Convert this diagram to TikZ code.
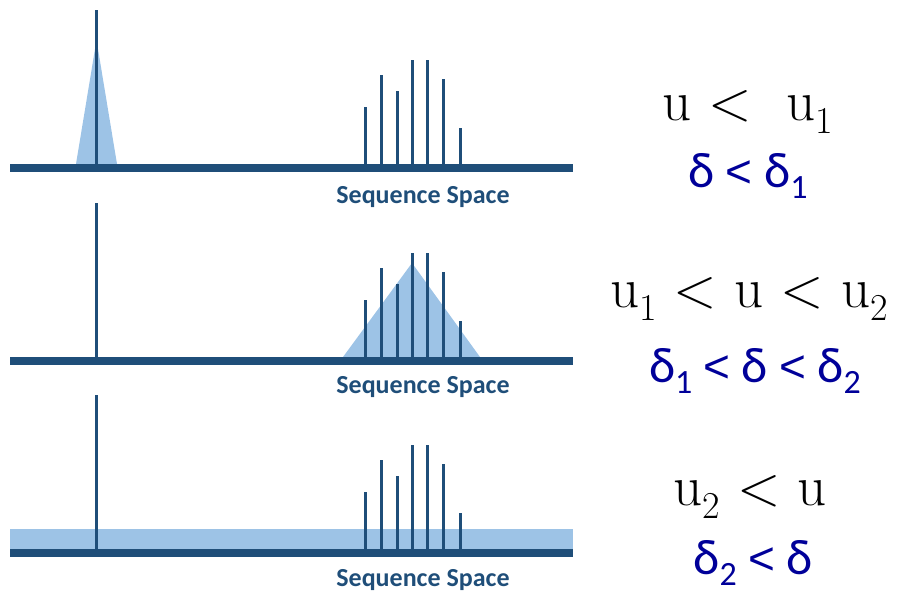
\documentclass[tikz,border=0pt]{standalone}
\usepackage{fontspec}
\newfontfamily\calib{Carlito}
\newfontfamily\ltfont{Liberation Sans}
\definecolor{barblue}{HTML}{1F4E79}
\definecolor{shadeblue}{HTML}{9DC3E6}
\definecolor{deltablue}{HTML}{000099}
\newcommand{\dsub}[1]{\raisebox{-11pt}{\fontsize{34}{34}\selectfont #1}}
\newcommand{\usub}[1]{\raisebox{-13pt}{\fontsize{38}{38}\selectfont #1}}
\newcommand{\dlt}{{\ltfont\fontsize{46}{50}\selectfont <}}
\tikzset{
  axisbar/.style={fill=barblue},
  spike/.style={draw=barblue, line width=3pt},
  shadearea/.style={fill=shadeblue},
  seqlabel/.style={anchor=base, font=\calib\bfseries\fontsize{26}{30}\selectfont, text=barblue, inner sep=0pt},
  ulabel/.style={anchor=base, font=\fontsize{57}{60}\selectfont, text=black, inner sep=0pt},
  dlabel/.style={anchor=base, font=\calib\fontsize{50}{54}\selectfont, text=deltablue, inner sep=0pt}
}
\begin{document}
\begin{tikzpicture}[x=1pt,y=-1pt]
\useasboundingbox (0,0) rectangle (901,592);
% panel 1
\begin{scope}
  \fill[shadearea] (76,164) -- (96.5,40) -- (117,164) -- cycle;
\end{scope}
% panel 2
\begin{scope}[shift={(0,193)}]
  \fill[shadearea] (343,164) -- (412,70) -- (480,164) -- cycle;
\end{scope}
% panel 3
\begin{scope}[shift={(0,385)}]
  \fill[shadearea] (10,144) rectangle (573,168);
\end{scope}
\foreach \dy/\nm/\ty in {0/a/203,193/b/393,385/c/586}{
  \begin{scope}[shift={(0,\dy)}]
    \coordinate (\nm0) at (96.5,168);
    \draw[spike, line width=2.6pt] (\nm0) -- (96.5,10);
    \foreach \xx/\tt in {365.7/107,381.7/75,397/91,412/60,427.5/60,443.7/79,460.5/128}{
      \draw[spike] (\xx,168) -- (\xx,\tt);
    }
    \fill[axisbar] (10,164) rectangle (573,172);
  \end{scope}
  \node[seqlabel] (seq\nm) at (423,\ty) {Sequence Space};
}
\node[ulabel] (u1) at (748,120) {u <\ \ u\usub{1}};
\node[dlabel] (d1) at (748,187) {δ \dlt{} δ\dsub{1}};
\node[ulabel] (u2) at (749,307) {u\usub{1} < u < u\usub{2}};
\node[dlabel] (d2) at (755,382) {δ\dsub{1} \dlt{} δ \dlt{} δ\dsub{2}};
\node[ulabel] (u3) at (750,505) {u\usub{2} < u};
\node[dlabel] (d3) at (753,574) {δ\dsub{2} \dlt{} δ};
\end{tikzpicture}
\end{document}
